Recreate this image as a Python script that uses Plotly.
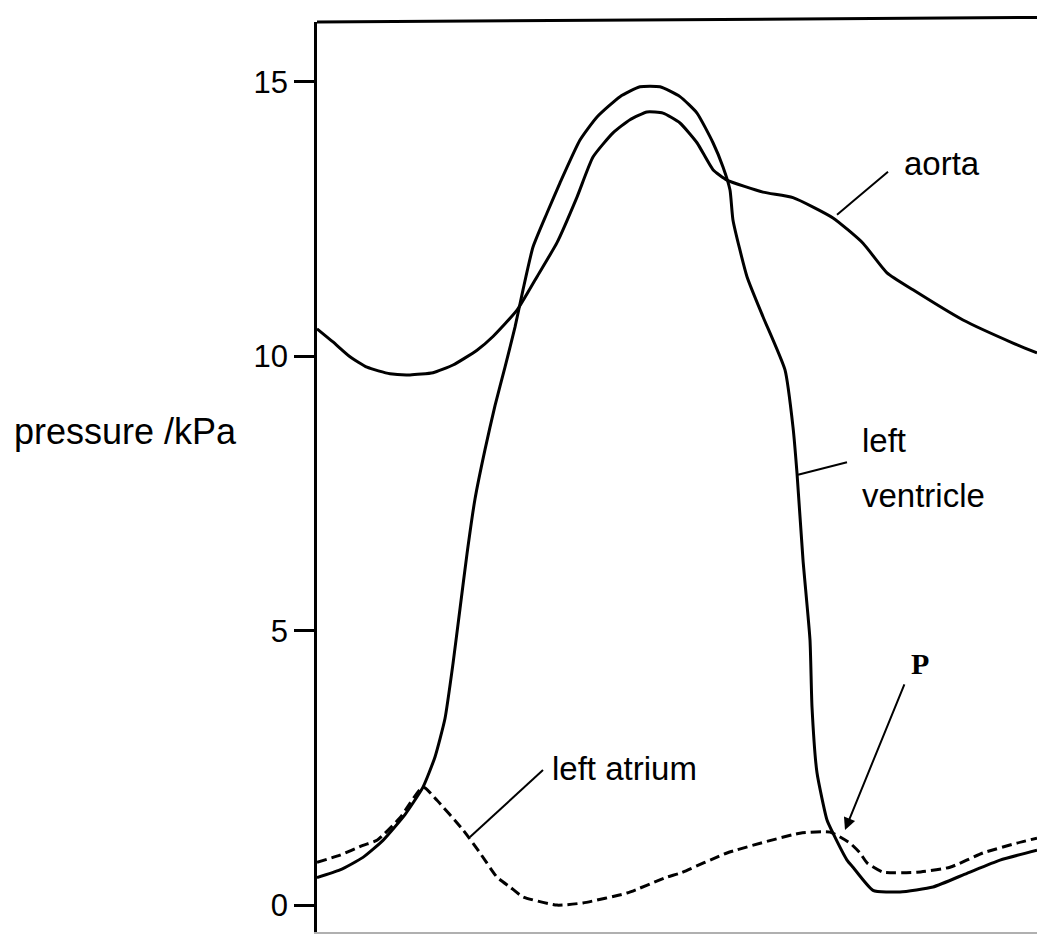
import plotly.graph_objects as go

# time axis (arbitrary units, s) and pressures (kPa)
aorta_t = [0.000, 0.016, 0.033, 0.050, 0.073, 0.093, 0.116, 0.136, 0.160, 0.176, 0.200,
           0.220, 0.240, 0.260, 0.276, 0.296, 0.313, 0.330, 0.346, 0.363, 0.380, 0.396,
           0.410, 0.446, 0.476, 0.516, 0.546, 0.570, 0.596, 0.646, 0.696, 0.720]
aorta_p = [10.50, 10.26, 9.99, 9.80, 9.68, 9.66, 9.70, 9.84, 10.11, 10.36, 10.84,
           11.45, 12.07, 12.90, 13.63, 14.07, 14.31, 14.45, 14.43, 14.25, 13.89, 13.40,
           13.21, 12.99, 12.89, 12.52, 12.06, 11.52, 11.21, 10.66, 10.24, 10.06]

ventricle_t = [0.000, 0.023, 0.046, 0.066, 0.088, 0.106, 0.118, 0.128, 0.136, 0.143, 0.150,
               0.158, 0.168, 0.178, 0.188, 0.198, 0.206, 0.216, 0.230, 0.243, 0.263, 0.280,
               0.303, 0.323, 0.343, 0.363, 0.380, 0.396, 0.406, 0.413, 0.416, 0.430, 0.446,
               0.468, 0.476, 0.480, 0.486, 0.493, 0.495, 0.500, 0.510, 0.516, 0.530, 0.536,
               0.556, 0.583, 0.616, 0.650, 0.683, 0.720]
ventricle_p = [0.50, 0.64, 0.87, 1.18, 1.65, 2.15, 2.70, 3.40, 4.40, 5.40, 6.40,
               7.40, 8.30, 9.10, 9.80, 10.53, 11.21, 11.99, 12.61, 13.16, 13.94, 14.36,
               14.73, 14.91, 14.91, 14.73, 14.43, 13.89, 13.45, 13.03, 12.48, 11.45, 10.72,
               9.75, 8.71, 7.87, 6.29, 4.83, 3.61, 2.41, 1.55, 1.31, 0.82, 0.69,
               0.27, 0.24, 0.33, 0.58, 0.82, 1.00]

atrium_t = [0.000, 0.023, 0.046, 0.060, 0.083, 0.106, 0.120, 0.146, 0.163, 0.180, 0.193,
            0.206, 0.240, 0.266, 0.310, 0.350, 0.363, 0.410, 0.483, 0.513, 0.533,
            0.543, 0.550, 0.566, 0.600, 0.633, 0.666, 0.700, 0.720]
atrium_p = [0.78, 0.91, 1.09, 1.18, 1.59, 2.15, 1.91, 1.37, 0.95, 0.51, 0.33,
            0.15, 0.00, 0.04, 0.22, 0.51, 0.58, 0.95, 1.31, 1.33, 1.13,
            0.95, 0.77, 0.60, 0.60, 0.69, 0.95, 1.13, 1.22]

y_ticks = [0, 5, 10, 15]
y_tick_labels = ["0", "5", "10", "15"]

SANS = "Liberation Sans, Arial, sans-serif"

fig = go.Figure()
fig.add_trace(go.Scatter(x=aorta_t, y=aorta_p, mode="lines", name="aorta",
                         line=dict(color="black", width=3, shape="spline", smoothing=0.5)))
fig.add_trace(go.Scatter(x=ventricle_t, y=ventricle_p, mode="lines", name="left ventricle",
                         line=dict(color="black", width=3, shape="spline", smoothing=0.5)))
fig.add_trace(go.Scatter(x=atrium_t, y=atrium_p, mode="lines", name="left atrium",
                         line=dict(color="black", width=3, dash="10px,5px",
                                   shape="spline", smoothing=0.5)))

# pointer lines
pointer = dict(color="black", width=2)
fig.add_shape(type="line", x0=0.520, y0=12.58, x1=0.571, y1=13.36, line=pointer)
fig.add_shape(type="line", x0=0.481, y0=7.84, x1=0.530, y1=8.07, line=pointer)
fig.add_shape(type="line", x0=0.153, y0=1.24, x1=0.226, y1=2.46, line=pointer)
# top border
fig.add_shape(type="line", xref="paper", yref="paper", x0=0, y0=1.0, x1=1, y1=1.005,
              line=dict(color="black", width=3))

lab = dict(family=SANS, size=33, color="black")
fig.add_annotation(x=0.585, y=13.52, text="aorta", showarrow=False, xanchor="left",
                   yanchor="middle", font=lab)
fig.add_annotation(x=0.543, y=8.46, text="left", showarrow=False, xanchor="left",
                   yanchor="middle", font=lab)
fig.add_annotation(x=0.543, y=7.47, text="ventricle", showarrow=False, xanchor="left",
                   yanchor="middle", font=lab)
fig.add_annotation(x=0.233, y=2.48, text="left atrium", showarrow=False, xanchor="left",
                   yanchor="middle", font=lab)
fig.add_annotation(x=0.603, y=4.41, text="<b>P</b>", showarrow=False, xanchor="center",
                   yanchor="middle",
                   font=dict(family="Liberation Serif, Times New Roman, serif", size=30,
                             color="black"))
fig.add_annotation(x=0.528, y=1.37, ax=0.588, ay=4.05, axref="x", ayref="y",
                   text="", showarrow=True, arrowhead=2, arrowsize=1.2, arrowwidth=2,
                   arrowcolor="black")
fig.add_annotation(xref="paper", x=-0.424, y=8.62, text="pressure /kPa", showarrow=False,
                   xanchor="left", yanchor="middle",
                   font=dict(family=SANS, size=36, color="black"))

fig.update_layout(
    width=1037, height=934,
    margin=dict(l=317, r=0, t=22, b=2),
    paper_bgcolor="white", plot_bgcolor="white",
    showlegend=False,
    xaxis=dict(range=[0, 0.72], showgrid=False, zeroline=False, showticklabels=False,
               ticks="", showline=True, linecolor="#b0b0b0", linewidth=2),
    yaxis=dict(range=[-0.49, 16.09], showgrid=False, zeroline=False,
               tickvals=y_ticks, ticktext=y_tick_labels, ticks="outside", ticklen=20,
               tickwidth=2.5, tickcolor="black", showline=True, linecolor="black",
               linewidth=2.5, tickfont=dict(family=SANS, size=31, color="black")),
)

fig.write_html("out.html")
